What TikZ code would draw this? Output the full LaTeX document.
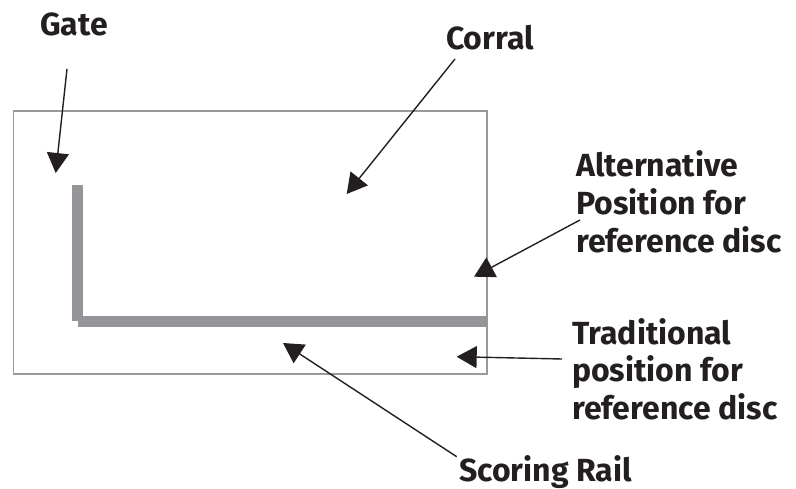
\documentclass[tikz,border=0pt]{standalone}
\usepackage{fontspec}
\setmainfont{Fira Sans}
\usetikzlibrary{arrows.meta}
\definecolor{railgray}{HTML}{939598}
\definecolor{boxgray}{HTML}{9A9A9A}
\definecolor{ink}{HTML}{231F20}
\begin{document}
\begin{tikzpicture}[x=1pt,y=-1pt,
  lbl/.style={inner sep=0pt, anchor=base west, text=ink,
    font=\fontsize{32}{37.8}\selectfont\bfseries, align=left},
  ptr/.style={draw=ink, line width=1.4pt, -{Triangle[length=20pt,width=22pt]}},
  rail/.style={fill=railgray, draw=none}]
\useasboundingbox (0,0) rectangle (796,489);
% corral outline
\draw[boxgray, line width=1.6pt] (13.5,111) rectangle (487,374);
% gate and scoring rail
\fill[rail] (72,185) rectangle (83.3,321);
\fill[rail] (77.7,315.7) rectangle (487,327.3);
% labels (multi-line nodes are anchored on their last baseline)
\node[lbl] (gate) at (40,36) {Gate};
\node[lbl] (corral) at (446,50) {Corral};
\node[lbl] (alt) at (576,252.3) {Alternative\\Position for\\reference disc};
\node[lbl] (trad) at (572,419.6) {Traditional\\position for\\reference disc};
\node[lbl] (rail) at (459,481.7) {Scoring Rail};
% arrow ends
\coordinate (gateS) at (67,69);
\coordinate (gateT) at (55.7,173);
\coordinate (corS) at (455,59);
\coordinate (corT) at (346.7,194);
\coordinate (altS) at (580,220);
\coordinate (altT) at (474,276.7);
\coordinate (tradS) at (562,359);
\coordinate (tradT) at (456.7,356.7);
\coordinate (railS) at (456.7,456.7);
\coordinate (railT) at (283,343);
\draw[ptr] (gateS) -- (gateT);
\draw[ptr] (corS) -- (corT);
\draw[ptr] (altS) -- (altT);
\draw[ptr] (tradS) -- (tradT);
\draw[ptr] (railS) -- (railT);
\end{tikzpicture}
\end{document}
